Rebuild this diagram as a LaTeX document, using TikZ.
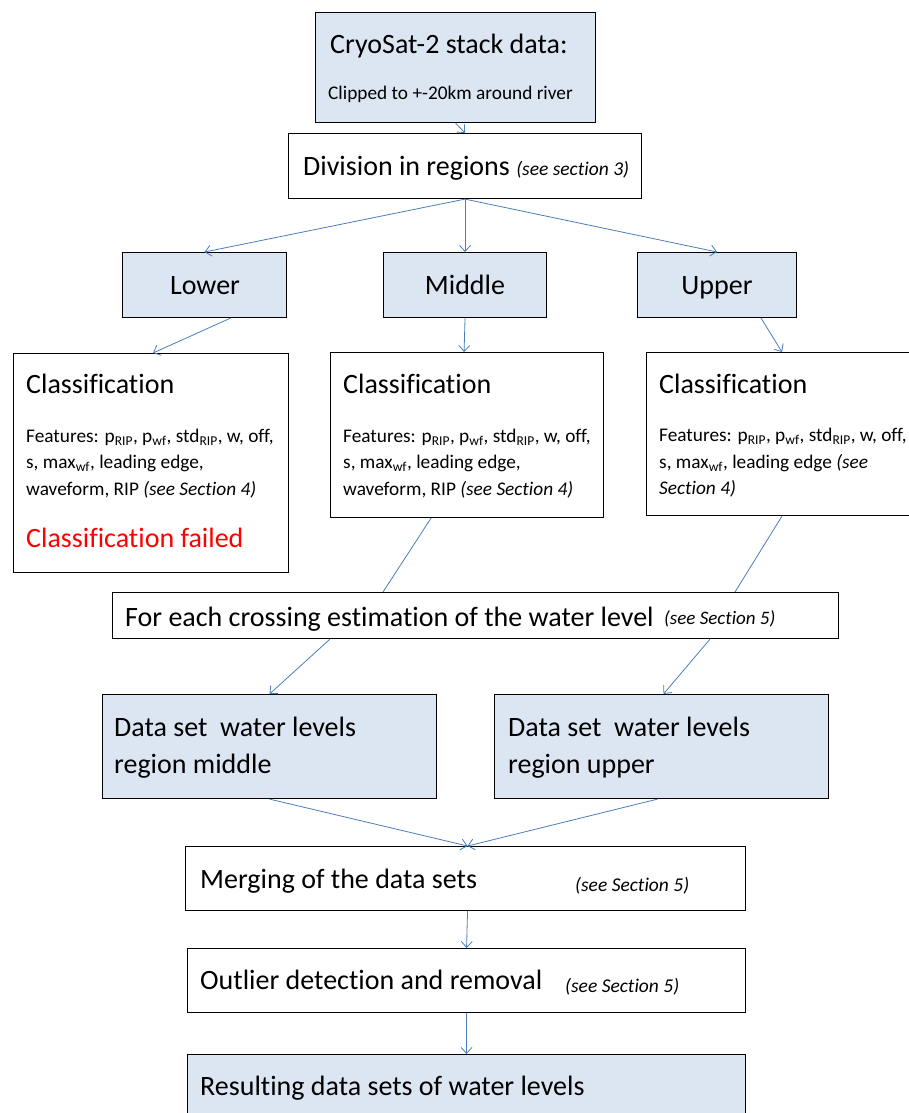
\documentclass[tikz,border=0pt]{standalone}
\usepackage{fontspec}
\setmainfont[Ligatures=NoCommon]{Carlito}
\usetikzlibrary{arrows.meta,calc}
\definecolor{boxblue}{HTML}{DCE6F2}
\definecolor{lineblue}{HTML}{4A7EBB}
\definecolor{failred}{HTML}{FF0000}
\newcommand{\seefont}{\fontsize{19.5}{23}\selectfont\itshape}
\begin{document}
\begin{tikzpicture}[x=1pt,y=-1pt,
  box/.style={draw=black, line width=1.1pt, inner sep=0pt, anchor=north west},
  fbox/.style={box, fill=boxblue},
  big/.style={font=\fontsize{28}{33}\selectfont},
  small/.style={font=\fontsize{19.3}{23}\selectfont},
  txt/.style={anchor=base west, inner sep=0pt},
  arr/.style={draw=lineblue, line width=0.8pt, -{Straight Barb[length=6pt,width=11pt]}},
  lin/.style={draw=lineblue, line width=0.8pt}]
\clip (0,0) rectangle (909,1113);
\useasboundingbox (0,0) rectangle (909,1113);
% boxes
\node[fbox, minimum width=280pt, minimum height=110pt] (cryo) at (315,12) {};
\node[box, minimum width=353pt, minimum height=65pt] (div) at (288,133) {};
\node[fbox, minimum width=164pt, minimum height=65pt] (lower) at (122,252) {};
\node[fbox, minimum width=163pt, minimum height=65pt] (middle) at (383,252) {};
\node[fbox, minimum width=159pt, minimum height=65pt] (upper) at (637,252) {};
\node[box, minimum width=275pt, minimum height=219pt] (cl) at (13,353) {};
\node[box, minimum width=273pt, minimum height=165pt] (cm) at (330,352) {};
\node[box, minimum width=280pt, minimum height=163pt] (cr) at (646,352) {};
\node[box, minimum width=726pt, minimum height=46pt] (fe) at (112,592) {};
\node[fbox, minimum width=334pt, minimum height=104pt] (dm) at (102,694) {};
\node[fbox, minimum width=334pt, minimum height=104pt] (du) at (494,694) {};
\node[box, minimum width=560pt, minimum height=64pt] (merge) at (185,846) {};
\node[box, minimum width=558pt, minimum height=64pt] (outl) at (187,948) {};
\node[fbox, minimum width=558pt, minimum height=90pt] (res) at (187,1054) {};
% texts
\node[txt,big] (t1) at (330,54) {CryoSat-2 stack data:};
\node[txt,small] (t2) at (328,100) {Clipped to +-20km around river};
\node[txt,big] (t3) at (303,175) {Division in regions \seefont(see section 3)};
\node[big, inner sep=0pt, anchor=base] (lt) at (205,294) {Lower};
\node[big, inner sep=0pt, anchor=base] (mt) at (465,294) {Middle};
\node[big, inner sep=0pt, anchor=base] (ut) at (717,294) {Upper};
% left classification
\node[txt,big] (l1) at (26,393) {Classification};
\node[txt,small] (l2) at (26,442) {Features: p\textsubscript{RIP}, p\textsubscript{wf}, std\textsubscript{RIP}, w, off,};
\node[txt,small] (l3) at (26,468) {s, max\textsubscript{wf}, leading edge,};
\node[txt,small] (l4) at (26,495) {waveform, RIP \textit{(see Section 4)}};
\node[txt,big,text=failred] (l5) at (26,547) {Classification failed};
% middle classification
\node[txt,big] (m1) at (343,393) {Classification};
\node[txt,small] (m2) at (343,442) {Features: p\textsubscript{RIP}, p\textsubscript{wf}, std\textsubscript{RIP}, w, off,};
\node[txt,small] (m3) at (343,468) {s, max\textsubscript{wf}, leading edge,};
\node[txt,small] (m4) at (343,495) {waveform, RIP \textit{(see Section 4)}};
% right classification
\node[txt,big] (r1) at (659,393) {Classification};
\node[txt,small] (r2) at (659,441) {Features: p\textsubscript{RIP}, p\textsubscript{wf}, std\textsubscript{RIP}, w, off,};
\node[txt,small] (r3) at (659,468) {s, max\textsubscript{wf}, leading edge \textit{(see}};
\node[txt,small] (r4) at (659,494) {\textit{Section 4)}};
% for each
\node[txt,big] (f1) at (125,626) {For each crossing estimation of the water level};
\node[txt,font=\fontsize{19}{22}\selectfont\itshape] (f2) at (664,624) {(see Section 5)};
% data sets
\node[txt,big] (d1) at (114,736) {Data set\ \ water levels};
\node[txt,big] (d2) at (114,773) {region middle};
\node[txt,big] (d3) at (508,736) {Data set\ \ water levels};
\node[txt,big] (d4) at (508,773) {region upper};
% merging etc
\node[txt,big] (g1) at (200,888) {Merging of the data sets};
\node[txt,font=\seefont] (g2) at (575,891) {(see Section 5)};
\node[txt,big] (o1) at (200,989) {Outlier detection and removal};
\node[txt,font=\seefont] (o2) at (565,992) {(see Section 5)};
\node[txt,big] (s1) at (200,1095) {Resulting data sets of water levels};
% connectors
\draw[arr] (cryo.south) -- (div.north);
\draw[arr] (div.south) -- (lower.north);
\draw[arr] (div.south) -- (middle.north);
\draw[arr] (div.south) -- (upper.north);
\draw[arr] ([xshift=26pt]lower.south) -- ([xshift=2pt]cl.north);
\draw[arr] (middle.south) -- ([xshift=-3pt]cm.north);
\draw[arr] ([xshift=44pt]upper.south) -- ([xshift=136pt]cr.north west);
\draw[lin] ([xshift=-36pt]cm.south) -- ([xshift=271pt]fe.north west);
\draw[lin] ([xshift=136pt]cr.south west) -- ([xshift=623pt]fe.north west);
\draw[arr] ([xshift=218pt]fe.south west) -- (dm.north);
\draw[arr] ([xshift=598pt]fe.south west) -- ([xshift=2pt]du.north);
\draw[arr] (dm.south) -- ([xshift=2pt]merge.north);
\draw[arr] ([xshift=-4pt]du.south) -- ([xshift=2pt]merge.north);
\draw[arr] ([xshift=2pt]merge.south) -- ([xshift=0pt]outl.north);
\draw[arr] (outl.south) -- ([xshift=0pt]res.north);
\end{tikzpicture}
\end{document}
